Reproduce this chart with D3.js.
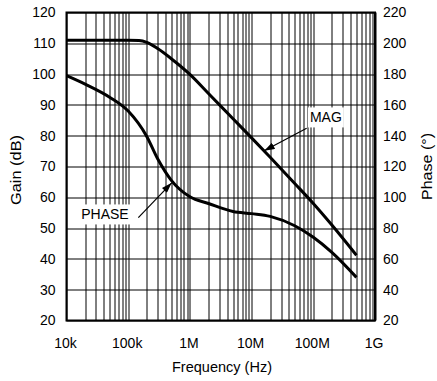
<!DOCTYPE html>
<html>
<head>
<meta charset="utf-8">
<script src="https://cdn.jsdelivr.net/npm/d3@7"></script>
<style>
  body { margin: 0; background: #fff; }
  svg text { font-family: "Liberation Sans", Arial, sans-serif; font-size: 14px; fill: #000; }
</style>
</head>
<body>
<div id="chart"></div>
<script>
// frequency points (Hz)
const magFreq = [1e4, 5e4, 1e5, 1.5e5, 2e5, 3e5, 5e5, 1e6, 2e6, 5e6, 1e7, 2e7, 5e7, 1e8, 2e8, 5e8];
const magDb   = [111, 111, 111, 110.9, 110.3, 108.3, 105, 99.9, 93.7, 85.5, 79.3, 73, 64.5, 58, 51, 41.2];

const phaseFreq = [1e4, 2e4, 5e4, 1e5, 2e5, 3e5, 5e5, 1e6, 2e6, 5e6, 1e7, 2e7, 5e7, 1e8, 2e8, 5e8];
const phaseDeg  = [179, 173.5, 165, 156, 139.5, 125, 111, 100.3, 96, 90.8, 89.4, 87.6, 81.5, 74, 64.2, 48];

const gainTicks = [20, 30, 40, 50, 60, 70, 80, 90, 100, 110, 120];
const phaseTicks = [20, 40, 60, 80, 100, 120, 140, 160, 180, 200, 220];
const freqTicks = [1e4, 1e5, 1e6, 1e7, 1e8, 1e9];
const freqLabels = ['10k', '100k', '1M', '10M', '100M', '1G'];

// annotations: label anchor + arrow (start -> tip) in data units
const magNote = { text: 'MAG', f: 1.6e8, v: 85.9, from: [7.8e7, 82.4], to: [1.6e7, 75.1] };
const phaseNote = { text: 'PHASE', f: 4.2e4, v: 88.8, from: [1.46e5, 86.8], to: [5.07e5, 109.4] };

const W = 437, H = 381;
const margin = { top: 12.5, right: 62, bottom: 60.5, left: 66.5 };
const width = W - margin.left - margin.right;
const height = H - margin.top - margin.bottom;

const svg = d3.select('#chart')
  .append('svg')
    .attr('width', W)
    .attr('height', H);

const g = svg.append('g')
  .attr('transform', 'translate(' + margin.left + ',' + margin.top + ')');

const x = d3.scaleLog().domain([1e4, 1e9]).range([0, width]);
const yGain = d3.scaleLinear().domain([20, 120]).range([height, 0]);
const yPhase = d3.scaleLinear().domain([20, 220]).range([height, 0]);

// grid
g.append('g')
  .selectAll('line')
  .data(x.ticks())
  .enter()
  .append('line')
    .attr('x1', d => Math.round(x(d)) + 0.5)
    .attr('x2', d => Math.round(x(d)) + 0.5)
    .attr('y1', 0)
    .attr('y2', height)
    .attr('stroke', '#000')
    .attr('stroke-width', 1);

g.append('g')
  .selectAll('line')
  .data(gainTicks)
  .enter()
  .append('line')
    .attr('x1', 0)
    .attr('x2', width)
    .attr('y1', d => Math.round(yGain(d)) + 0.5)
    .attr('y2', d => Math.round(yGain(d)) + 0.5)
    .attr('stroke', '#000')
    .attr('stroke-width', 1);

// frame
g.append('rect')
  .attr('x', 0).attr('y', 0)
  .attr('width', width).attr('height', height)
  .attr('fill', 'none')
  .attr('stroke', '#000')
  .attr('stroke-width', 2);

// axes (labels only)
const axL = g.append('g')
  .call(d3.axisLeft(yGain).tickValues(gainTicks).tickSize(0).tickPadding(11));
const axR = g.append('g')
  .attr('transform', 'translate(' + width + ',0)')
  .call(d3.axisRight(yPhase).tickValues(phaseTicks).tickSize(0).tickPadding(8));
const axB = g.append('g')
  .attr('transform', 'translate(0,' + height + ')')
  .call(d3.axisBottom(x).tickValues(freqTicks).tickSize(0).tickPadding(18)
    .tickFormat((d, i) => freqLabels[i]));
[axL, axR, axB].forEach(a => {
  a.select('.domain').remove();
  a.selectAll('text').style('font-size', '14px').style('font-family', '"Liberation Sans", Arial, sans-serif');
});
axB.selectAll('text').attr('dx', '-1.5');

// curves
const magLine = d3.line()
  .x((d, i) => x(magFreq[i]))
  .y(d => yGain(d))
  .curve(d3.curveMonotoneX);
const phaseLine = d3.line()
  .x((d, i) => x(phaseFreq[i]))
  .y(d => yPhase(d))
  .curve(d3.curveMonotoneX);

g.append('path')
  .attr('d', magLine(magDb))
  .attr('fill', 'none')
  .attr('stroke', '#000')
  .attr('stroke-width', 3);
g.append('path')
  .attr('d', phaseLine(phaseDeg))
  .attr('fill', 'none')
  .attr('stroke', '#000')
  .attr('stroke-width', 3);

// annotations
svg.append('defs').append('marker')
  .attr('id', 'ah')
  .attr('viewBox', '0 0 12 8')
  .attr('refX', 12).attr('refY', 4)
  .attr('markerWidth', 11).attr('markerHeight', 7)
  .attr('markerUnits', 'userSpaceOnUse')
  .attr('orient', 'auto')
  .append('path')
    .attr('d', 'M0,0L12,4L0,8Z')
    .attr('fill', '#000');

function note(n, yScale) {
  const t = g.append('text')
    .attr('x', x(n.f))
    .attr('y', yScale(n.v))
    .attr('dy', '0.35em')
    .attr('text-anchor', 'middle')
    .text(n.text);
  const bb = t.node().getBBox();
  g.insert('rect', () => t.node())
    .attr('x', bb.x - 2).attr('y', bb.y - 2)
    .attr('width', bb.width + 4).attr('height', bb.height + 4)
    .attr('fill', '#fff');
  g.append('line')
    .attr('x1', x(n.from[0])).attr('y1', yScale(n.from[1]))
    .attr('x2', x(n.to[0])).attr('y2', yScale(n.to[1]))
    .attr('stroke', '#000')
    .attr('stroke-width', 1.2)
    .attr('marker-end', 'url(#ah)');
}
note(magNote, yGain);
note(phaseNote, yPhase);

// axis titles
svg.append('text')
  .attr('x', 222)
  .attr('y', 372)
  .attr('text-anchor', 'middle')
  .attr('textLength', 100)
  .attr('lengthAdjust', 'spacingAndGlyphs')
  .text('Frequency (Hz)');
svg.append('text')
  .attr('transform', 'translate(21,170) rotate(-90)')
  .attr('text-anchor', 'middle')
  .attr('textLength', 70)
  .attr('lengthAdjust', 'spacingAndGlyphs')
  .text('Gain (dB)');
svg.append('text')
  .attr('transform', 'translate(432,166.5) rotate(-90)')
  .attr('text-anchor', 'middle')
  .attr('textLength', 67)
  .attr('lengthAdjust', 'spacingAndGlyphs')
  .text('Phase (°)');
</script>
</body>
</html>
